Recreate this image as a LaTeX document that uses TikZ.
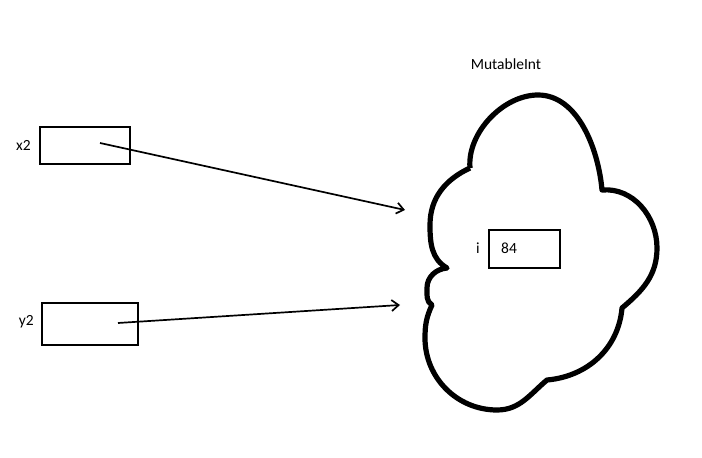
\documentclass[tikz,border=0pt]{standalone}
\usepackage{fontspec}
\setmainfont{Carlito}
\usetikzlibrary{arrows.meta}
\begin{document}
\begin{tikzpicture}[x=1pt,y=1pt,
  varbox/.style={draw=black,line width=2pt,minimum width=#1,inner sep=0pt,anchor=center},
  lbl/.style={font=\fontsize{15.5}{18}\selectfont,inner sep=0pt},
  ptr/.style={line width=1.7pt,-{Straight Barb[length=7pt,width=11pt,line width=1.7pt]}},
  cloudline/.style={line width=5.2pt,line join=round}]
\useasboundingbox (0,0) rectangle (702,458);
% variable boxes
\node[varbox=90pt,minimum height=37pt] (x2box) at (85,312.5) {};
\node[varbox=96pt,minimum height=42pt] (y2box) at (90,134) {};
\node[lbl,anchor=east] (x2lbl) at (31,313) {x2};
\node[lbl,anchor=east] (y2lbl) at (34,136) {y2};
% cloud
\draw[cloudline] (470,290) to[out=95,in=180,looseness=0.9] (538,363)
  to[out=0,in=95,looseness=0.9] (602,268)
  to[out=5,in=90] (657,210)
  to[out=-90,in=40] (622,150)
  to[out=-95,in=5] (547,78)
  to[out=-140,in=0] (497,48)
  to[out=180,in=-90] (425,120)
  to[out=90,in=-115] (432,153)
  to[out=150,in=-90] (427,170)
  to[out=90,in=185] (447,190)
  to[out=150,in=-90] (430,233)
  to[out=90,in=-155] (470,290);
\node[lbl] (title) at (506,394) {MutableInt};
\node[varbox=71pt,minimum height=38pt] (ibox) at (524.5,209) {};
\node[lbl] (ilbl) at (478,210) {i};
\node[lbl,anchor=west] (ival) at (501,210) {84};
% pointers
\coordinate (x2start) at (100,315);
\coordinate (y2start) at (118,135);
\coordinate (x2end) at (405,248);
\coordinate (y2end) at (400,153);
\draw[ptr] (x2start) -- (x2end);
\draw[ptr] (y2start) -- (y2end);
\end{tikzpicture}
\end{document}
